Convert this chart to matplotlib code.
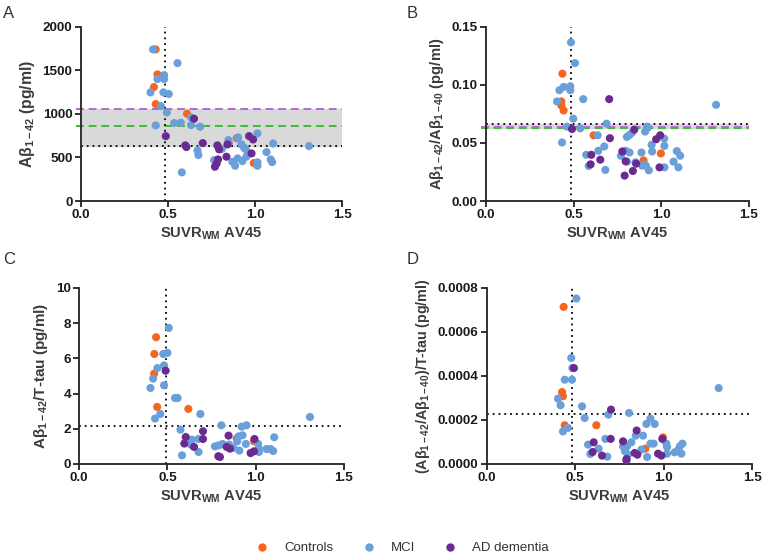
import matplotlib
matplotlib.use('Agg')
import matplotlib.pyplot as plt

plt.rcParams['font.family'] = ['Liberation Sans', 'DejaVu Sans']
plt.rcParams['mathtext.fontset'] = 'custom'
plt.rcParams['mathtext.rm'] = 'Liberation Sans:bold'
plt.rcParams['mathtext.it'] = 'Liberation Sans:italic'
plt.rcParams['mathtext.bf'] = 'Liberation Sans:bold'

# colours of the three groups
C_CTRL = '#f4661f'
C_MCI = '#6a9fda'
C_AD = '#6a2a8f'

groups = ['Controls', 'MCI', 'AD dementia']

# ---- panel A: Abeta 1-42 -------------------------------------------------
a_ctrl_x = [0.43, 0.44, 0.42, 0.43, 0.61, 0.895, 0.993]
a_ctrl_y = [1740, 1453, 1308, 1113, 1002, 723, 436]
a_mci_x = [0.415, 0.478, 0.44, 0.478, 0.40, 0.474, 0.505, 0.555, 0.46, 0.494, 0.633, 0.43, 0.536,
           0.574, 0.633, 0.685, 0.67, 0.675, 0.58, 0.788, 0.765, 0.81, 0.847, 0.85, 0.903, 0.87,
           0.886, 0.9, 0.922, 0.937, 0.947, 0.928, 0.95, 1.014, 1.014, 1.014, 1.066, 1.09, 1.098,
           1.104, 1.31]
a_mci_y = [1740, 1445, 1400, 1400, 1247, 1247, 1228, 1583, 1090, 1017, 960, 868, 895,
           899, 872, 853, 581, 528, 329, 620, 470, 597, 700, 669, 730, 451,
           405, 490, 650, 612, 593, 459, 509, 444, 405, 776, 562, 478, 447,
           661, 631]
a_ad_x = [0.65, 0.488, 0.60, 0.606, 0.70, 0.784, 0.77, 0.78, 0.788, 0.794, 0.842, 0.836, 0.966,
          0.989, 0.98]
a_ad_y = [945, 745, 639, 620, 665, 639, 394, 432, 478, 593, 650, 509, 745,
          707, 547]

# ---- panel B: Abeta 1-42 / Abeta 1-40 -----------------------------------
b_ctrl_x = [0.435, 0.429, 0.429, 0.442, 0.613, 0.898, 0.997]
b_ctrl_y = [0.1096, 0.0857, 0.0823, 0.078, 0.0566, 0.035, 0.041]
b_mci_x = [0.484, 0.507, 0.418, 0.442, 0.48, 0.48, 0.404, 0.554, 1.312, 0.497, 0.687, 0.461,
           0.537, 0.433, 0.636, 0.674, 0.64, 0.571, 0.585, 0.68, 0.769, 0.796, 0.803, 0.818,
           0.803, 0.818, 0.833, 0.852, 0.89, 0.886, 0.904, 0.911, 0.928, 0.917, 0.907, 0.923,
           0.944, 0.947, 1.016, 1.017, 1.017, 1.069, 1.088, 1.107, 1.097]
b_mci_y = [0.1366, 0.1187, 0.0954, 0.0982, 0.0988, 0.0954, 0.0857, 0.0877, 0.0828, 0.0709,
           0.0666, 0.064, 0.0626, 0.0504, 0.0566, 0.047, 0.0433, 0.0398, 0.0302, 0.0268,
           0.039, 0.0433, 0.0339, 0.0418, 0.0552, 0.0569, 0.0589, 0.0333, 0.0305, 0.0418,
           0.0313, 0.0305, 0.0265, 0.064, 0.0598, 0.0632, 0.0484, 0.0427, 0.0538, 0.0475,
           0.029, 0.0339, 0.043, 0.039, 0.029]
b_ad_x = [0.702, 0.49, 0.651, 0.6, 0.596, 0.706, 0.777, 0.796, 0.79, 0.845, 0.856, 0.837, 0.97,
          0.993, 0.989]
b_ad_y = [0.0877, 0.062, 0.0356, 0.0398, 0.0316, 0.0541, 0.0427, 0.0342, 0.0219, 0.0615,
          0.0322, 0.0259, 0.0532, 0.0566, 0.029]

# ---- panel C: Abeta 1-42 / T-tau ------------------------------------------
c_ctrl_x = [0.436, 0.426, 0.425, 0.442, 0.619, 0.893, 0.991]
c_ctrl_y = [7.2, 6.25, 5.13, 3.24, 3.13, 1.45, 1.29]
c_mci_x = [0.508, 0.477, 0.5, 0.443, 0.481, 0.419, 0.404, 0.481, 0.543, 0.558, 0.687, 0.46, 0.43,
           1.309, 0.806, 0.921, 0.949, 0.574, 0.638, 0.632, 0.675, 0.677, 0.583, 0.77, 0.792,
           0.813, 0.851, 0.874, 0.896, 0.904, 0.926, 0.908, 0.945, 1.015, 1.019, 1.019, 1.062,
           1.085, 1.1, 1.106]
c_mci_y = [7.73, 6.25, 6.31, 5.45, 5.6, 4.85, 4.32, 4.47, 3.75, 3.75, 2.84, 2.84, 2.58,
           2.67, 2.2, 2.12, 2.2, 1.95, 1.38, 1.1, 1.42, 0.68, 0.49, 1.0, 1.06,
           1.14, 1.1, 0.91, 1.29, 1.57, 1.63, 0.76, 1.14, 1.14, 0.87, 0.68, 0.85,
           0.85, 0.74, 1.52]
c_ad_x = [0.49, 0.604, 0.702, 0.702, 0.596, 0.651, 0.789, 0.798, 0.847, 0.836, 0.855, 0.994,
          0.972, 0.991]
c_ad_y = [5.3, 1.53, 1.86, 1.42, 1.16, 0.97, 0.44, 0.4, 1.61, 0.97, 0.87, 1.42,
          0.62, 0.72]

# ---- panel D: (Abeta 1-42 / Abeta 1-40) / T-tau --------------------------
d_ctrl_x = [0.434, 0.425, 0.43, 0.44, 0.619, 0.896, 0.996]
d_ctrl_y = [0.000714, 0.000327, 0.000308, 0.000176, 0.000176, 0.0000697, 0.000121]
d_mci_x = [0.506, 0.477, 0.483, 0.44, 0.481, 0.402, 0.417, 1.311, 0.538, 0.553, 0.458, 0.43,
           0.687, 0.804, 0.925, 0.902, 0.949, 0.842, 0.883, 0.817, 0.77, 0.792, 0.572, 0.585,
           0.632, 0.67, 0.681, 0.781, 0.798, 0.874, 0.906, 0.925, 0.943, 1.015, 1.019, 1.019,
           1.062, 1.081, 1.091, 1.106, 1.1]
d_mci_y = [0.000752, 0.000482, 0.000436, 0.000383, 0.000383, 0.000297, 0.000267, 0.000345,
           0.000262, 0.000209, 0.000164, 0.000148, 0.000224, 0.000232, 0.000206, 0.000182,
           0.000182, 0.000129, 0.000129, 0.0000985, 0.00008, 0.00008, 0.000088, 0.0000455,
           0.0000697, 0.000114, 0.0000333, 0.0000576, 0.0000424, 0.0000652, 0.0000318,
           0.0000924, 0.0000924, 0.0000924, 0.0000773, 0.000047, 0.000053, 0.0000621,
           0.00008, 0.0000924, 0.000047]
d_ad_x = [0.492, 0.702, 0.847, 0.77, 0.604, 0.598, 0.651, 0.70, 0.79, 0.789, 0.836, 0.851,
          0.992, 0.968, 0.987]
d_ad_y = [0.000436, 0.000247, 0.000152, 0.000103, 0.0000985, 0.0000545, 0.0000379, 0.000114,
          0.0000227, 0.0000167, 0.00005, 0.0000424, 0.000114, 0.000047, 0.0000379]

# cut-offs
a_band = (635, 1055)
a_green = 860
b_band = (0.0632, 0.0666)
b_purple = 0.0638
b_green = 0.0629
c_cut = 2.14
d_cut = 0.000226
suvr_cut = [0.482, 0.484, 0.49, 0.483]

xlabel = r'SUVR$_{\mathregular{WM}}$ AV45'
ylabels = [r'Aβ$_{\mathregular{1-42}}$ (pg/ml)',
           r'Aβ$_{\mathregular{1-42}}$/Aβ$_{\mathregular{1-40}}$ (pg/ml)',
           r'Aβ$_{\mathregular{1-42}}$/T-tau (pg/ml)',
           r'(Aβ$_{\mathregular{1-42}}$/Aβ$_{\mathregular{1-40}}$)/T-tau (pg/ml)']
ylabel_size = [11.3, 10.6, 11.0, 10.3]
yticks = [[0, 500, 1000, 1500, 2000],
          [0.00, 0.05, 0.10, 0.15],
          [0, 2, 4, 6, 8, 10],
          [0, 0.0002, 0.0004, 0.0006, 0.0008]]
yfmt = ['{:.0f}', '{:.2f}', '{:.0f}', '{:.4f}']

fig = plt.figure(figsize=(7.62, 5.57), dpi=100)
rects = [[0.106, 0.639, 0.343, 0.313],
         [0.638, 0.639, 0.345, 0.313],
         [0.104, 0.167, 0.347, 0.316],
         [0.639, 0.167, 0.348, 0.316]]
axes = [fig.add_axes(r) for r in rects]

data = [(a_ctrl_x, a_ctrl_y, a_mci_x, a_mci_y, a_ad_x, a_ad_y),
        (b_ctrl_x, b_ctrl_y, b_mci_x, b_mci_y, b_ad_x, b_ad_y),
        (c_ctrl_x, c_ctrl_y, c_mci_x, c_mci_y, c_ad_x, c_ad_y),
        (d_ctrl_x, d_ctrl_y, d_mci_x, d_mci_y, d_ad_x, d_ad_y)]

dot = dict(color='black', linestyle=(0, (1, 2.2)), linewidth=1.3)
dash = (0, (4, 2.5))
MS = 34

for i, ax in enumerate(axes):
    cx, cy, mx, my, ax_, ay = data[i]
    top = yticks[i][-1]

    # reference lines
    if i == 0:
        ax.axhspan(a_band[0], a_band[1], color='#d9d9d9', zorder=0)
        ax.plot([-0.03, 1.5], [a_band[1], a_band[1]], color='#b966d6', ls=dash, lw=1.4, clip_on=False, zorder=1)
        ax.plot([-0.03, 1.5], [a_green, a_green], color='#3dbb35', ls=dash, lw=1.4, clip_on=False, zorder=1)
        ax.plot([0, 1.5], [a_band[0], a_band[0]], zorder=1, **dot)
    elif i == 1:
        ax.axhspan(b_band[0], b_band[1], color='#d9d9d9', zorder=0)
        ax.plot([-0.03, 1.5], [b_green, b_green], color='#3dbb35', ls=dash, lw=1.4, clip_on=False, zorder=1)
        ax.plot([-0.03, 1.5], [b_purple, b_purple], color='#b966d6', ls=dash, lw=1.4, clip_on=False, zorder=1)
        ax.plot([0, 1.5], [b_band[1], b_band[1]], zorder=1, **dot)
    elif i == 2:
        ax.plot([0, 1.5], [c_cut, c_cut], zorder=1, **dot)
    else:
        ax.plot([0, 1.5], [d_cut, d_cut], zorder=1, **dot)
    ax.plot([suvr_cut[i], suvr_cut[i]], [0, top], zorder=1, **dot)

    ax.scatter(cx, cy, s=MS, color=C_CTRL, edgecolors='none', zorder=3)
    ax.scatter(mx, my, s=MS, color=C_MCI, edgecolors='none', zorder=3)
    ax.scatter(ax_, ay, s=MS, color=C_AD, edgecolors='none', zorder=3)

    ax.set_xlim(0, 1.5)
    ax.set_ylim(0, top)
    ax.set_xticks([0, 0.5, 1.0, 1.5])
    ax.set_xticklabels(['0.0', '0.5', '1.0', '1.5'])
    ax.set_yticks(yticks[i])
    ax.set_yticklabels([yfmt[i].format(v) for v in yticks[i]])
    for lab in ax.get_xticklabels() + ax.get_yticklabels():
        lab.set_fontweight('bold')
        lab.set_fontsize(9.7)
        lab.set_color('#1a1a1a')
    ax.tick_params(direction='out', length=4, width=1.3, color='#222222', pad=2)
    for s in ['top', 'right']:
        ax.spines[s].set_visible(False)
    for s in ['left', 'bottom']:
        ax.spines[s].set_linewidth(1.3)
        ax.spines[s].set_color('#222222')
    ax.set_xlabel(xlabel, fontsize=10.6, fontweight='bold', color='#3c3c3c', labelpad=3)
    ax.set_ylabel(ylabels[i], fontsize=ylabel_size[i], fontweight='bold', color='#3c3c3c', labelpad=4)
    ax.patch.set_alpha(0)

# panel letters
fig.text(0.004, 0.975, 'A', fontsize=12, color='#333333', va='center')
fig.text(0.533, 0.975, 'B', fontsize=12, color='#333333', va='center')
fig.text(0.004, 0.534, 'C', fontsize=12, color='#333333', va='center')
fig.text(0.533, 0.534, 'D', fontsize=12, color='#333333', va='center')

# legend
handles = [plt.Line2D([], [], marker='o', ls='none', color=c, markersize=5)
           for c in [C_CTRL, C_MCI, C_AD]]
leg = fig.legend(handles, groups, loc='center', bbox_to_anchor=(0.527, 0.016), ncol=3,
                 frameon=False, fontsize=9.5, handlelength=1.2, handletextpad=1.05,
                 columnspacing=2.1)
for t in leg.get_texts():
    t.set_color('#333333')

fig.savefig('out.png', dpi=100)
